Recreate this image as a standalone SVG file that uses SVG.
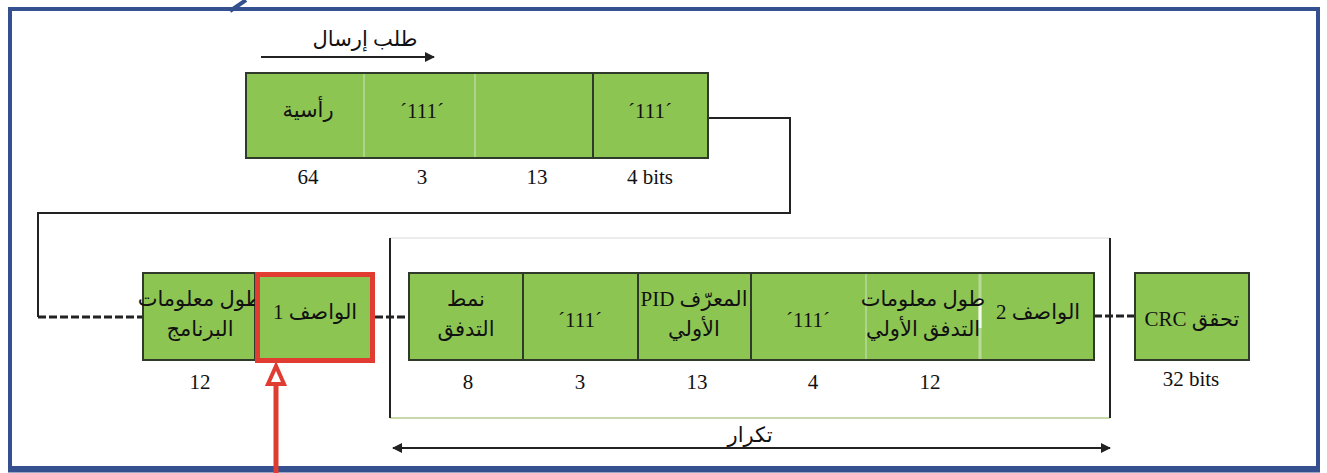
<svg xmlns="http://www.w3.org/2000/svg" width="1327" height="473" viewBox="0 0 1327 473">
<style>
.box{fill:#8dc553;stroke:#2f3a2a;stroke-width:2}
.div{stroke:#2f3a2a;stroke-width:2}
.ldiv{stroke:#b9d99a;stroke-width:1.5}
.t{font-family:'Liberation Serif','Times New Roman',serif;font-size:21px;fill:#111;text-anchor:middle}
.ar{direction:rtl;font-family:'Liberation Serif','DejaVu Sans',serif}
.ln{fill:none;stroke:#222;stroke-width:2}
.dash{fill:none;stroke:#222;stroke-width:3;stroke-dasharray:8 3}
</style>
<defs>
<marker id="ah" viewBox="0 0 10 10" refX="9" refY="5" markerWidth="12" markerHeight="10" markerUnits="userSpaceOnUse" orient="auto-start-reverse">
<path d="M0,0 L10,5 L0,10 z" fill="#222"/>
</marker>
</defs>
<rect width="1327" height="473" fill="#fff"/>
<rect x="10" y="9" width="1308" height="459" fill="none" stroke="#34508f" stroke-width="4"/>
<line x1="8" y1="470" x2="1320" y2="470" stroke="#34508f" stroke-width="5"/>
<line x1="230" y1="11" x2="246" y2="0" stroke="#34508f" stroke-width="4"/>

<g id="connectors">
<path class="ln" d="M708,118 H790 V213 H38 V317"/>
<path class="dash" d="M38,317 H143"/>
<path class="dash" d="M375,317 H409"/>
<path class="dash" d="M1094,316 H1135"/>
<line x1="261" y1="57" x2="434" y2="57" class="ln" marker-end="url(#ah)"/>
<line x1="393" y1="448" x2="1110" y2="448" class="ln" marker-start="url(#ah)" marker-end="url(#ah)"/>
<path d="M390,238 H1110" stroke="#e6e6e6" stroke-width="1.5" fill="none"/>
<path d="M390,418 H1110" stroke="#c8d8a8" stroke-width="2" fill="none"/>
<line x1="390" y1="238" x2="390" y2="418" class="ln"/>
<line x1="1110" y1="238" x2="1110" y2="418" class="ln"/>
<line x1="276" y1="473" x2="276" y2="376" stroke="#e03c31" stroke-width="5"/>
<polygon points="276,366 268,384 284,384" fill="#fff" stroke="#e03c31" stroke-width="4"/>
</g>
<text class="t ar" x="365" y="46">طلب إرسال</text>
<text class="t ar" x="750" y="442">تكرار</text>

<g id="top-packet">
<rect class="box" x="246" y="73" width="462" height="85"/>
<line class="ldiv" x1="364" y1="74" x2="364" y2="157"/>
<line class="ldiv" x1="475" y1="74" x2="475" y2="157"/>
<line class="div" x1="593" y1="73" x2="593" y2="158"/>
<text class="t ar" x="308" y="117">رأسية</text>
<text class="t" x="422" y="118">´111´</text>
<text class="t" x="650" y="118">´111´</text>
<text class="t" x="308" y="184">64</text>
<text class="t" x="422" y="184">3</text>
<text class="t" x="537" y="184">13</text>
<text class="t" x="650" y="184">4 bits</text>
</g>

<g id="program-info-length">
<rect class="box" x="143" y="273" width="112" height="87"/>
<text class="t ar" x="200" y="306">طول معلومات</text>
<text class="t ar" x="200" y="336">البرنامج</text>
<text class="t" x="200" y="389">12</text>
</g>

<g id="descriptor1">
<rect x="257.500" y="274.500" width="115" height="86" fill="#8dc553" stroke="#e03c31" stroke-width="5"/>
<text class="t ar" x="315" y="319">الواصف 1</text>
</g>

<g id="loop">
<rect class="box" x="409" y="273" width="685" height="87"/>
<line class="div" x1="523" y1="273" x2="523" y2="360"/>
<line class="div" x1="638" y1="273" x2="638" y2="360"/>
<line class="div" x1="751" y1="273" x2="751" y2="360"/>
<line class="ldiv" x1="866" y1="274" x2="866" y2="359"/>
<line x1="980" y1="274" x2="980" y2="359" stroke="#b9d99a" stroke-width="3"/>
<line x1="980" y1="298" x2="980" y2="328" stroke="#f4faee" stroke-width="3"/>
<text class="t ar" x="466" y="306">نمط</text>
<text class="t ar" x="466" y="336">التدفق</text>
<text class="t" x="580" y="327">´111´</text>
<text class="t ar" x="694" y="306">المعرّف PID</text>
<text class="t ar" x="694" y="336">الأولي</text>
<text class="t" x="808" y="327">´111´</text>
<text class="t ar" x="923" y="306">طول معلومات</text>
<text class="t ar" x="923" y="336">التدفق الأولي</text>
<text class="t ar" x="1038" y="319">الواصف 2</text>
<text class="t" x="468" y="389">8</text>
<text class="t" x="580" y="389">3</text>
<text class="t" x="697" y="389">13</text>
<text class="t" x="813" y="389">4</text>
<text class="t" x="930" y="389">12</text>
</g>

<g id="crc">
<rect class="box" x="1135" y="273" width="114" height="87"/>
<text class="t ar" x="1192" y="326">تحقق CRC</text>
<text class="t" x="1191" y="386">32 bits</text>
</g>
</svg>
